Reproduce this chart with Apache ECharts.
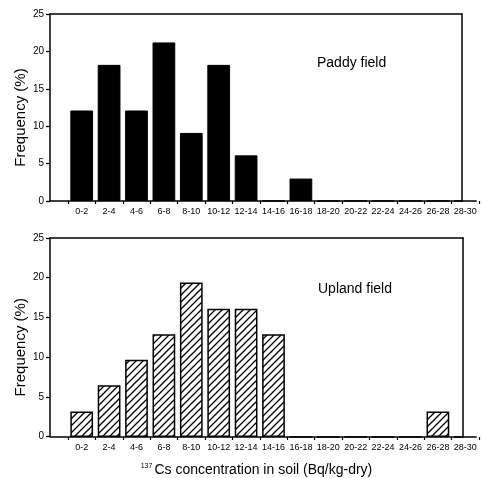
<!DOCTYPE html>
<html><head><meta charset="utf-8">
<script src="https://cdn.jsdelivr.net/npm/echarts@6/dist/echarts.min.js"></script>
<style>html,body{margin:0;padding:0;background:#fff}#c{width:483px;height:478px}</style>
</head><body><div id="c"></div>
<script>
var categories = ['0-2','2-4','4-6','6-8','8-10','10-12','12-14','14-16','16-18','18-20','20-22','22-24','24-26','26-28','28-30'];
var paddyValues = [12.1, 18.2, 12.1, 21.2, 9.1, 18.2, 6.1, 0, 3.0, 0, 0, 0, 0, 0, 0];
var uplandValues = [3.2, 6.5, 9.7, 12.9, 19.4, 16.1, 16.1, 12.9, 0, 0, 0, 0, 0, 3.2, 0];
var yTicks = [0, 25, 5];
var paddyTitle = 'Paddy field';
var uplandTitle = 'Upland field';
var yName = 'Frequency (%)';

var FONT = '"Liberation Sans", Arial, sans-serif';

var hatch = document.createElement('canvas');
var P = 7;
hatch.width = P; hatch.height = P;
var hc = hatch.getContext('2d');
hc.fillStyle = '#fff'; hc.fillRect(0,0,P,P);
hc.strokeStyle = '#000'; hc.lineWidth = 1.3;
hc.beginPath();
hc.moveTo(-1, P+1); hc.lineTo(P+1, -1);
hc.moveTo(-2, 2); hc.lineTo(2, -2);
hc.moveTo(P-2, P+2); hc.lineTo(P+2, P-2);
hc.stroke();

var chart = echarts.init(document.getElementById('c'), null, {renderer: 'canvas'});

function frameAxesX(gi, bottomName) {
  var base = {
    type: 'value', gridIndex: gi, min: 0, max: 1,
    axisLine: {show: true, onZero: false, lineStyle: {color: '#000', width: 1.5}},
    axisTick: {show: false}, axisLabel: {show: false}, splitLine: {show: false}
  };
  var b = Object.assign({}, base, {position: 'bottom'});
  if (bottomName) {
    b.name = bottomName;
    b.nameLocation = 'middle';
    b.nameGap = 26;
    b.nameMoveOverlap = false;
    b.nameTextStyle = {
      fontFamily: FONT, fontSize: 14, color: '#000',
      rich: {
        sup: {fontFamily: FONT, fontSize: 7, color: '#000', padding: [0, 2, 8, 0]},
        t: {fontFamily: FONT, fontSize: 14, color: '#000'}
      }
    };
  }
  var t = Object.assign({}, base, {position: 'top'});
  return [b, t];
}
function frameAxesY(gi) {
  return [{
    type: 'value', gridIndex: gi, min: yTicks[0], max: yTicks[1], interval: yTicks[2],
    position: 'left',
    name: yName, nameLocation: 'middle', nameGap: 22, nameMoveOverlap: false,
    nameTextStyle: {fontFamily: FONT, fontSize: 15, color: '#000', padding: [0, 20, 0, 0]},
    axisLine: {show: true, onZero: false, lineStyle: {color: '#000', width: 1.5}},
    axisTick: {show: true, inside: false, length: 4, lineStyle: {color: '#000', width: 1.3}},
    axisLabel: {fontFamily: FONT, fontSize: 10, color: '#000', margin: 6},
    splitLine: {show: false}
  }, {
    type: 'value', gridIndex: gi, min: yTicks[0], max: yTicks[1], position: 'right',
    axisLine: {show: true, onZero: false, lineStyle: {color: '#000', width: 1.5}},
    axisTick: {show: false}, axisLabel: {show: false}, splitLine: {show: false}
  }];
}
function dataAxisX(gi) {
  return {
    type: 'category', gridIndex: gi, data: categories, boundaryGap: true,
    axisLine: {show: false},
    axisTick: {show: true, length: 3, lineStyle: {color: '#000', width: 1.2}},
    axisLabel: {fontFamily: FONT, fontSize: 9, color: '#000', margin: 6, interval: 0}
  };
}
function dataAxisY(gi) {
  return {type: 'value', gridIndex: gi, min: yTicks[0], max: yTicks[1], show: false};
}

var xAxes = [].concat(frameAxesX(0), [dataAxisX(1)], frameAxesX(2, '{sup|137}{t|Cs concentration in soil (Bq/kg-dry)}'), [dataAxisX(3)]);
var yAxes = [].concat(frameAxesY(0), [dataAxisY(1)], frameAxesY(2), [dataAxisY(3)]);

chart.setOption({
  animation: false,
  backgroundColor: '#fff',
  title: [
    {text: paddyTitle, left: 312, top: 51, textStyle: {fontFamily: FONT, fontSize: 14, fontWeight: 'normal', color: '#000'}},
    {text: uplandTitle, left: 313, top: 277, textStyle: {fontFamily: FONT, fontSize: 14, fontWeight: 'normal', color: '#000'}}
  ],
  grid: [
    {left: 50, width: 412, top: 14, height: 187},
    {left: 68, width: 411, top: 14, height: 187},
    {left: 50, width: 413, top: 238, height: 199},
    {left: 68, width: 411, top: 238, height: 199}
  ],
  xAxis: xAxes,
  yAxis: yAxes,
  series: [
    {type: 'bar', name: paddyTitle, xAxisIndex: 2, yAxisIndex: 2, data: paddyValues, barCategoryGap: '17%',
     itemStyle: {color: '#000', borderColor: '#000', borderWidth: 1}},
    {type: 'bar', name: uplandTitle, xAxisIndex: 5, yAxisIndex: 5, data: uplandValues, barCategoryGap: '17%',
     itemStyle: {color: {image: hatch, repeat: 'repeat'}, borderColor: '#000', borderWidth: 1.5}}
  ]
});
</script></body></html>
